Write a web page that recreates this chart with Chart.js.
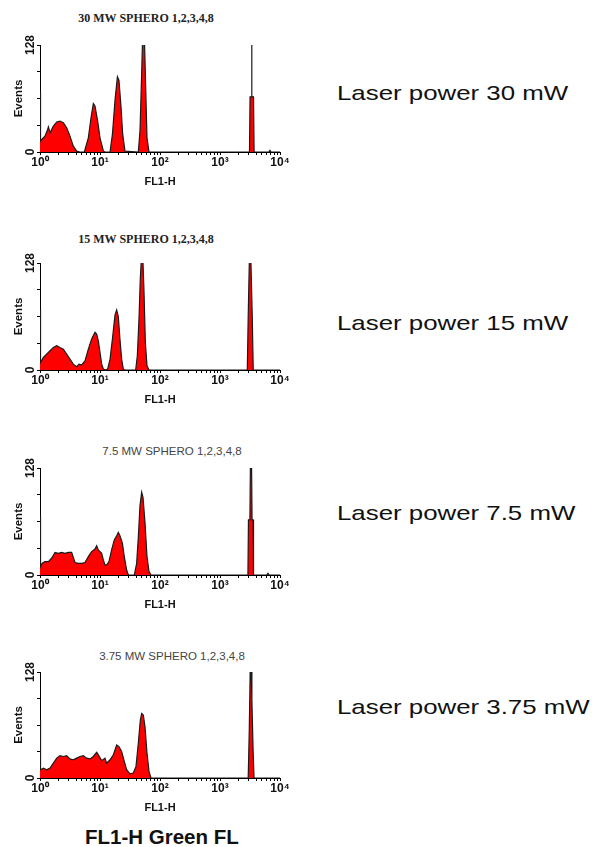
<!DOCTYPE html>
<html>
<head>
    <meta charset="UTF-8">
    <title>SPHERO beads FL1-H at different laser powers</title>
    <script src="https://cdn.jsdelivr.net/npm/chart.js"></script>
    <style>
        body {
            margin: 0;
            width: 592px;
            height: 847px;
            position: relative;
            overflow: hidden;
            background: #fff;
            font-family: "Liberation Sans", Arial, sans-serif;
            color: #111;
        }
        canvas.panel {
            position: absolute;
            left: 0;
        }
        .ptitle {
            position: absolute;
            width: 220px;
            text-align: center;
            line-height: 14px;
            white-space: nowrap;
        }
        .serif {
            font-family: "Liberation Serif", "Times New Roman", serif;
            font-size: 12px;
            font-weight: bold;
            color: #222;
        }
        .sans {
            font-size: 11.5px;
            color: #444;
        }
        .power {
            position: absolute;
            left: 337px;
            font-size: 21px;
            line-height: 24px;
            white-space: nowrap;
            transform: scaleX(1.23);
            transform-origin: left center;
        }
        #bottomLabel {
            position: absolute;
            left: 85px;
            top: 825px;
            font-size: 20.5px;
            font-weight: bold;
            line-height: 24px;
            white-space: nowrap;
        }
    </style>
</head>
<body>
    <div class="ptitle serif" style="left:36px; top:11px;" id="t0"></div>
    <div class="ptitle serif" style="left:36px; top:232px;" id="t1"></div>
    <div class="ptitle sans" style="left:62px; top:444px;" id="t2"></div>
    <div class="ptitle sans" style="left:62px; top:649px;" id="t3"></div>

    <canvas class="panel" id="c0" width="300" height="172"></canvas>
    <canvas class="panel" id="c1" width="300" height="172"></canvas>
    <canvas class="panel" id="c2" width="300" height="172"></canvas>
    <canvas class="panel" id="c3" width="300" height="171"></canvas>

    <div class="power" style="top:81px;" id="p0"></div>
    <div class="power" style="top:311px;" id="p1"></div>
    <div class="power" style="top:501px;" id="p2"></div>
    <div class="power" style="top:695px;" id="p3"></div>

    <div id="bottomLabel">FL1-H Green FL</div>

    <script>
        // tick labels
        const xTickLabels = ['10\u2070', '10\u00B9', '10\u00B2', '10\u00B3', '10\u2074'];
        const yTickLabels = ['0', '128'];

        const panelTitles = ['30 MW SPHERO 1,2,3,4,8', '15 MW SPHERO 1,2,3,4,8',
                             '7.5 MW SPHERO 1,2,3,4,8', '3.75 MW SPHERO 1,2,3,4,8'];
        const powerLabels = ['Laser power 30 mW', 'Laser power 15 mW',
                             'Laser power 7.5 mW', 'Laser power 3.75 mW'];

        // histograms, FL1-H channel value and event count
        const fl1_30 = [1, 1.02, 1.07, 1.21, 1.34, 1.38, 1.47, 1.67, 1.9, 2.15, 2.45, 2.78, 3.16, 3.59, 4.08,
                        4.64, 5.48, 6.39, 7.08, 7.74, 8.25, 9.14, 10, 11.4, 12.1, 14.7, 16.1, 17.8, 19.5, 20.7,
                        22.4, 23.9, 26.1, 43.5, 46.4, 49.5, 51.4, 54.8, 57.7, 60.7, 65.6, 3100, 3170, 3360, 3380,
                        3400, 3620, 3700, 6500, 6800, 7100, 10000];
        const events_30 = [72, 13, 15, 19, 27, 30, 23, 31, 36, 37, 35, 29, 19, 7, 1,
                           0, 0, 17, 41, 58, 55, 37, 17, 1, 0, 0, 21, 62, 90, 86,
                           54, 21, 1, 0, 25, 94, 140, 140, 78, 17, 0, 0, 66, 66, 140,
                           66, 66, 0, 0, 2, 0, 0];

        const fl1_15 = [1, 1.02, 1.14, 1.29, 1.47, 1.67, 1.9, 2.15, 2.45, 2.78, 3.16, 3.59, 4.08, 4.47, 4.95,
                        5.62, 6.39, 7.26, 8.25, 8.8, 9.38, 10, 10.66, 11.4, 12.4, 13.4, 14.7, 16.1, 17.8, 18.96,
                        20.2, 21.5, 22.96, 24.5, 26.1, 39.3, 41.9, 44.7, 47, 49.5, 51.4, 54.1, 57, 60.7, 65.6,
                        2850, 2950, 3100, 3250, 3450, 3580, 10000];
        const events_15 = [72, 9, 15, 19, 23, 27, 29, 27, 25, 19, 13, 7, 4, 7, 6,
                           11, 25, 37, 45, 43, 35, 21, 7, 1, 0, 1, 13, 37, 66, 72,
                           64, 37, 13, 1, 0, 0, 17, 62, 110, 140, 140, 94, 33, 5, 0,
                           0, 63, 140, 140, 63, 0, 0];

        const fl1_7_5 = [1, 1.02, 1.09, 1.21, 1.38, 1.56, 1.78, 2.02, 2.3, 2.61, 2.97, 3.37, 3.83, 4.35, 4.95,
                         5.62, 6.39, 7.26, 8.25, 8.8, 9.38, 10.66, 11.37, 12.1, 12.9, 14.1, 15.6, 17.3, 18.96, 20.2,
                         21.5, 23.6, 25.4, 27.8, 29.7, 37.3, 40.8, 43.5, 46.4, 49.5, 52.1, 56.2, 60.7, 65.6, 70.8,
                         2920, 2980, 3150, 3220, 3350, 3420, 3560, 3620, 6000, 6300, 6600, 10000];
        const events_7_5 = [71, 10, 14, 16, 16, 20, 27, 26, 27, 26, 27, 27, 15, 14, 14,
                            15, 22, 28, 31, 35, 30, 26, 18, 12, 12, 16, 30, 42, 47, 51,
                            47, 38, 22, 6, 0, 0, 14, 45, 83, 99, 93, 63, 22, 4, 0,
                            0, 66, 66, 140, 140, 66, 66, 0, 0, 2, 0, 0];

        const fl1_3_75 = [1, 1.02, 1.14, 1.29, 1.47, 1.67, 1.9, 2.15, 2.45, 2.78, 3.16, 3.59, 4.08, 4.64, 5.27,
                          5.99, 6.81, 7.74, 8.8, 9.38, 10.66, 12.1, 12.9, 14.7, 16.7, 18.96, 20.7, 22.96, 25.4, 27.8,
                          31.6, 35.9, 39.8, 43.5, 47, 49.5, 52.7, 56.2, 60.7, 65.6, 70.8, 2950, 3080, 3200, 3300,
                          3400, 3560, 3690, 10000];
        const events_3_75 = [70, 10, 12, 10, 12, 18, 24, 27, 26, 27, 23, 22, 24, 26, 27,
                             24, 23, 26, 31, 28, 21, 24, 18, 22, 28, 40, 38, 32, 20, 10,
                             5, 6, 14, 42, 70, 78, 76, 62, 30, 8, 0, 0, 60, 140, 130,
                             94, 34, 0, 0];

        const series = [[fl1_30, events_30], [fl1_15, events_15], [fl1_7_5, events_7_5], [fl1_3_75, events_3_75]];

        // page position of each plot area (top edge, height)
        const plotTop = [45, 263, 468, 672];
        const plotHeight = [107, 107, 107, 106];

        Chart.defaults.font.family = '"Liberation Sans", Arial, sans-serif';
        Chart.defaults.color = '#111';

        function makeHistogram(canvas, xs, ys) {
            return new Chart(canvas, {
                type: 'line',
                data: {
                    datasets: [{
                        data: xs.map((x, i) => ({x: x, y: ys[i]})),
                        fill: 'origin',
                        backgroundColor: '#ff0000',
                        borderColor: '#1a1a1a',
                        borderWidth: 1.2,
                        pointRadius: 0,
                        tension: 0
                    }]
                },
                options: {
                    responsive: false,
                    animation: false,
                    devicePixelRatio: 1,
                    layout: {padding: {top: 20, right: 20, bottom: 0, left: 0}},
                    plugins: {legend: {display: false}, tooltip: {enabled: false}},
                    scales: {
                        x: {
                            type: 'logarithmic',
                            min: 1,
                            max: 10000,
                            afterBuildTicks: scale => {
                                const t = [];
                                for (let e = 0; e < 4; e++) {
                                    for (let m = 1; m < 10; m++) t.push({value: m * Math.pow(10, e)});
                                }
                                t.push({value: 10000});
                                scale.ticks = t;
                            },
                            afterFit: scale => { scale.height = 45; },
                            grid: {drawOnChartArea: false, tickLength: 3, color: '#000'},
                            border: {display: true, color: '#000', width: 1},
                            ticks: {
                                autoSkip: false,
                                maxRotation: 0,
                                padding: 0,
                                font: {size: 12, weight: 'bold'},
                                callback: v => {
                                    const e = Math.round(Math.log10(v));
                                    return Math.abs(Math.pow(10, e) - v) < 1e-6 ? xTickLabels[e] : '';
                                }
                            },
                            title: {
                                display: true,
                                text: 'FL1-H',
                                font: {size: 11, weight: 'bold'},
                                padding: {top: 0, bottom: 8}
                            }
                        },
                        y: {
                            min: 0,
                            max: 128,
                            afterFit: scale => { scale.width = 40; },
                            grid: {drawOnChartArea: false, tickLength: 3, color: '#000'},
                            border: {display: true, color: '#000', width: 1},
                            ticks: {
                                stepSize: 32,
                                minRotation: 90,
                                maxRotation: 90,
                                crossAlign: 'center',
                                padding: -4,
                                font: {size: 12, weight: 'bold'},
                                callback: v => v === 0 ? yTickLabels[0] : (v === 128 ? yTickLabels[1] : '')
                            },
                            title: {
                                display: true,
                                text: 'Events',
                                font: {size: 11.5, weight: 'bold'},
                                padding: {top: 12, bottom: 0}
                            }
                        }
                    }
                }
            });
        }

        series.forEach((s, i) => {
            const canvas = document.getElementById('c' + i);
            canvas.style.top = (plotTop[i] - 20) + 'px';
            canvas.height = 20 + plotHeight[i] + 45;
            document.getElementById('t' + i).textContent = panelTitles[i];
            document.getElementById('p' + i).textContent = powerLabels[i];
            makeHistogram(canvas, s[0], s[1]);
        });
    </script>
</body>
</html>
